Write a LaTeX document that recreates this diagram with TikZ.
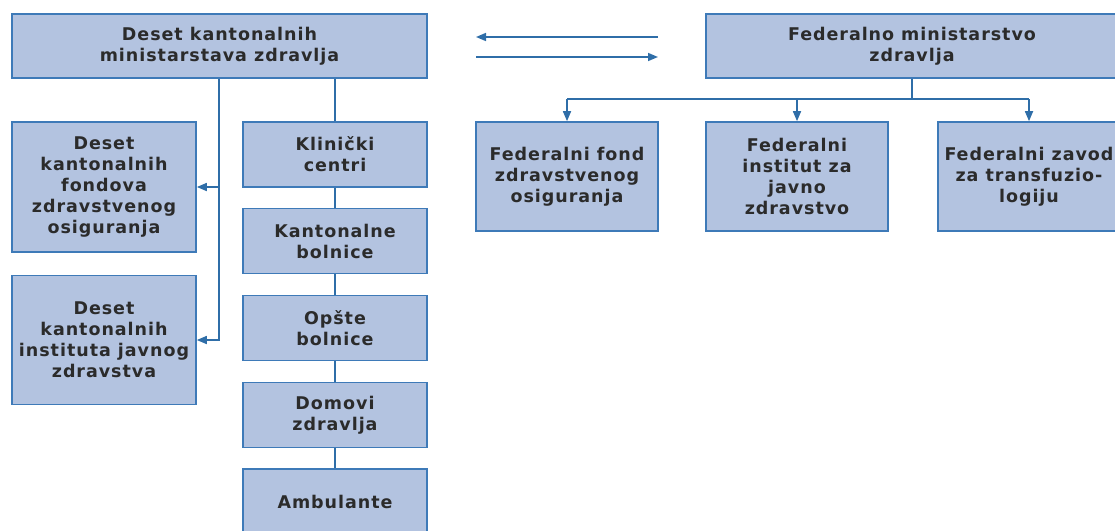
\documentclass[tikz,border=0pt]{standalone}
\usepackage{fontspec}
\setmainfont{DejaVu Sans}[LetterSpace=5.5]
\usetikzlibrary{arrows.meta}
\definecolor{boxfill}{HTML}{B3C3E0}
\definecolor{boxline}{HTML}{3E7AB8}
\definecolor{wire}{HTML}{2F6EA8}
\definecolor{ink}{HTML}{2B2B2B}
\begin{document}
\begin{tikzpicture}[x=1pt,y=-1pt,
  box/.style={draw=boxline, line width=1.6pt, fill=boxfill, align=center,
    font=\fontsize{17.5}{21}\selectfont\bfseries, text=ink, inner sep=0pt},
  wire/.style={draw=wire, line width=1.6pt},
  arr/.style={wire, -{Triangle[length=10pt,width=8pt]}}]
\useasboundingbox (0,0) rectangle (1115,530);

% cantonal level
\node[box, minimum width=415pt, minimum height=64pt] (kmin) at (219.5,46)
  {Deset kantonalnih\\ministarstava zdravlja};
\node[box, minimum width=184pt, minimum height=130pt] (kf) at (104,187)
  {Deset\\kantonalnih\\fondova\\zdravstvenog\\osiguranja};
\node[box, minimum width=184pt, minimum height=129pt] (ki) at (104,340)
  {Deset\\kantonalnih\\instituta javnog\\zdravstva};
\node[box, minimum width=184pt, minimum height=65pt] (c1) at (335,154.5) {Klinički\\centri};
\node[box, minimum width=184pt, minimum height=65pt] (c2) at (335,241) {Kantonalne\\bolnice};
\node[box, minimum width=184pt, minimum height=65pt] (c3) at (335,328) {Opšte\\bolnice};
\node[box, minimum width=184pt, minimum height=65pt] (c4) at (335,415) {Domovi\\zdravlja};
\node[box, minimum width=184pt, minimum height=66pt] (c5) at (335,502) {Ambulante};

% federal level
\node[box, minimum width=412pt, minimum height=64pt] (fmin) at (912,46)
  {Federalno ministarstvo\\zdravlja};
\node[box, minimum width=182pt, minimum height=109pt] (ff1) at (567,176.5)
  {Federalni fond\\zdravstvenog\\osiguranja};
\node[box, minimum width=182pt, minimum height=109pt] (ff2) at (797,176.5)
  {Federalni\\institut za\\javno\\zdravstvo};
\node[box, minimum width=182pt, minimum height=109pt] (ff3) at (1029,176.5)
  {Federalni zavod\\za transfuzio-\\logiju};

% two-way link between the levels
\coordinate (la) at (658,37);
\coordinate (lb) at (476,37);
\coordinate (ra) at (476,57);
\coordinate (rb) at (658,57);
\draw[arr] (la) -- (lb);
\draw[arr] (ra) -- (rb);

% cantonal connectors
\coordinate (kj) at (219,0);
\draw[arr] (kmin.south -| kj) |- (ki.east);
\draw[arr] (kf.east -| kj) -- (kf.east);
\draw[wire] (c1.north) -- (c1.north |- kmin.south);
\draw[wire] (c1) -- (c2) (c2) -- (c3) (c3) -- (c4) (c4) -- (c5);

% federal connectors
\coordinate (fj) at (912,99);
\draw[wire] (fmin.south) -- (fj);
\draw[wire] (ff1.north |- fj) -- (ff3.north |- fj);
\foreach \n in {ff1,ff2,ff3}{\draw[arr] (\n.north |- fj) -- (\n.north);}
\end{tikzpicture}
\end{document}
